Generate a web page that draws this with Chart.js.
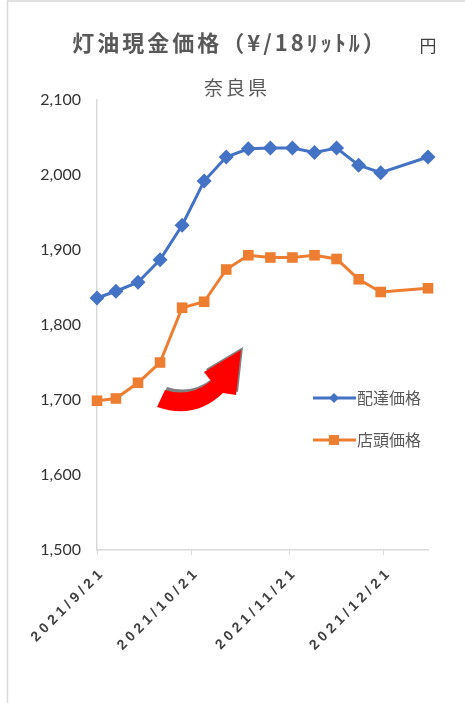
<!DOCTYPE html>
<html>
<head>
<meta charset="utf-8">
<script src="https://cdn.jsdelivr.net/npm/chart.js@4.4.1/dist/chart.umd.min.js"></script>
<style>
  html, body { margin: 0; padding: 0; background: #fff; }
  #wrap { width: 465px; height: 703px; position: relative; }
</style>
</head>
<body>
<div id="wrap"><canvas id="c" width="465" height="703"></canvas></div>
<script>
/* 灯油現金価格 奈良県 — line chart */
const dates = ['2021-09-21','2021-09-27','2021-10-04','2021-10-11','2021-10-18','2021-10-25','2021-11-01',
               '2021-11-08','2021-11-15','2021-11-22','2021-11-29','2021-12-06','2021-12-13','2021-12-20','2022-01-04'];
const deliveryPrice = [1836,1845,1857,1887,1933,1992,2024,2035,2036,2036,2030,2036,2013,2003,2024];
const storePrice    = [1699,1702,1723,1750,1823,1831,1874,1893,1890,1890,1893,1888,1861,1844,1849];
const tickDates = ['2021/9/21','2021/10/21','2021/11/21','2021/12/21'];
const yTicks = [1500,1600,1700,1800,1900,2000,2100];

const dayMs = 86400000;
const t0 = Date.UTC(2021, 8, 21);
const toDay = s => {
  const p = s.split(/[-\/]/).map(Number);
  return Math.round((Date.UTC(p[0], p[1]-1, p[2]) - t0) / dayMs);
};
const xs = dates.map(toDay);

const BLUE = '#4472C4', ORANGE = '#ED7D31', AXIS = '#D9D9D9', TXT = '#595959';

const decor = {
  id: 'decor',
  afterDraw(chart) {
    const ctx = chart.ctx;
    ctx.save();
    // frame
    ctx.strokeStyle = AXIS; ctx.lineWidth = 1.5;
    ctx.beginPath(); ctx.moveTo(7.5, 703); ctx.lineTo(7.5, 1); ctx.lineTo(465, 1); ctx.stroke();

    // titles
    ctx.fillStyle = TXT; ctx.textBaseline = 'middle'; ctx.textAlign = 'center';
    ctx.letterSpacing = '3px';
    ctx.font = 'bold 22px "Noto Sans CJK JP"';
    ctx.fillText('灯油現金価格（¥/18ﾘｯﾄﾙ）', 230, 43);
    ctx.font = '19px "Noto Sans CJK JP"';
    ctx.fillText('奈良県', 237, 88);
    ctx.letterSpacing = '0px';
    ctx.fillStyle = '#404040';
    ctx.font = '17px "Noto Sans CJK JP"';
    ctx.fillText('円', 428, 46);

    // x tick labels
    const xs_ = chart.scales.x;
    ctx.fillStyle = '#404040';
    ctx.font = 'bold 14px "Liberation Sans"';
    ctx.letterSpacing = '4px';
    ctx.textAlign = 'right'; ctx.textBaseline = 'middle';
    xs_.ticks.forEach(t => {
      const px = xs_.getPixelForValue(t.value);
      ctx.save();
      ctx.translate(px + 6, xs_.top + 20);
      ctx.rotate(-Math.PI / 4);
      ctx.fillText(tickDates[tickDates.map(toDay).indexOf(t.value)], 0, 0);
      ctx.restore();
    });
    ctx.letterSpacing = '0px';

    // legend
    const items = chart.data.datasets;
    items.forEach((ds, i) => {
      const y = 398 + i * 42;
      ctx.strokeStyle = ds.borderColor; ctx.lineWidth = 3;
      ctx.beginPath(); ctx.moveTo(313, y); ctx.lineTo(356, y); ctx.stroke();
      ctx.fillStyle = ds.borderColor;
      ctx.beginPath();
      if (ds.pointStyle === 'rectRot') {
        ctx.moveTo(334, y - 5); ctx.lineTo(339, y); ctx.lineTo(334, y + 5); ctx.lineTo(329, y);
      } else {
        ctx.rect(329, y - 5, 10, 10);
      }
      ctx.fill();
      ctx.fillStyle = TXT; ctx.textAlign = 'left';
      ctx.font = '16px "Noto Sans CJK JP"';
      ctx.fillText(ds.label, 357, y);
    });

    // red curved arrow (annotation)
    const arrow = (dx, dy) => {
      ctx.beginPath();
      ctx.moveTo(157 + dx, 407 + dy);
      ctx.quadraticCurveTo(195 + dx, 420 + dy, 223 + dx, 393 + dy);
      ctx.lineTo(236 + dx, 395 + dy);
      ctx.lineTo(241 + dx, 350 + dy);
      ctx.lineTo(204 + dx, 372 + dy);
      ctx.lineTo(211 + dx, 381 + dy);
      ctx.quadraticCurveTo(190 + dx, 398 + dy, 165 + dx, 390 + dy);
      ctx.closePath();
      ctx.fill();
    };
    ctx.fillStyle = '#808080'; arrow(2, -3);
    ctx.fillStyle = '#FF0000'; arrow(0, 0);
    ctx.restore();
  }
};

new Chart(document.getElementById('c'), {
  type: 'line',
  data: {
    datasets: [
      {
        label: '配達価格',
        data: xs.map((x, i) => ({ x, y: deliveryPrice[i] })),
        borderColor: BLUE, backgroundColor: BLUE,
        borderWidth: 3, pointStyle: 'rectRot', pointRadius: 7.5, pointBorderWidth: 0,
        tension: 0, clip: false
      },
      {
        label: '店頭価格',
        data: xs.map((x, i) => ({ x, y: storePrice[i] })),
        borderColor: ORANGE, backgroundColor: ORANGE,
        borderWidth: 3, pointStyle: 'rect', pointRadius: 7.5, pointBorderWidth: 0,
        tension: 0, clip: false
      }
    ]
  },
  options: {
    responsive: false,
    animation: false,
    layout: { padding: { top: 100, right: 37, left: 0, bottom: 0 } },
    plugins: { legend: { display: false }, tooltip: { enabled: false } },
    scales: {
      x: {
        type: 'linear', min: 0, max: xs[xs.length - 1],
        afterBuildTicks: s => { s.ticks = tickDates.map(d => ({ value: toDay(d) })); },
        afterFit: s => { s.height = 153; },
        ticks: { display: false },
        grid: { drawOnChartArea: false, drawTicks: true, tickLength: 5, color: AXIS },
        border: { color: AXIS, width: 1.5 }
      },
      y: {
        min: yTicks[0], max: yTicks[yTicks.length - 1],
        afterBuildTicks: s => { s.ticks = yTicks.map(v => ({ value: v })); },
        afterFit: s => { s.width = 97; },
        ticks: {
          color: '#333333', padding: 16,
          font: { family: 'Lato', size: 16 },
          callback: v => v.toLocaleString('en-US')
        },
        grid: { drawOnChartArea: false, drawTicks: false },
        border: { color: AXIS, width: 1.5 }
      }
    }
  },
  plugins: [decor]
});
</script>
</body>
</html>
